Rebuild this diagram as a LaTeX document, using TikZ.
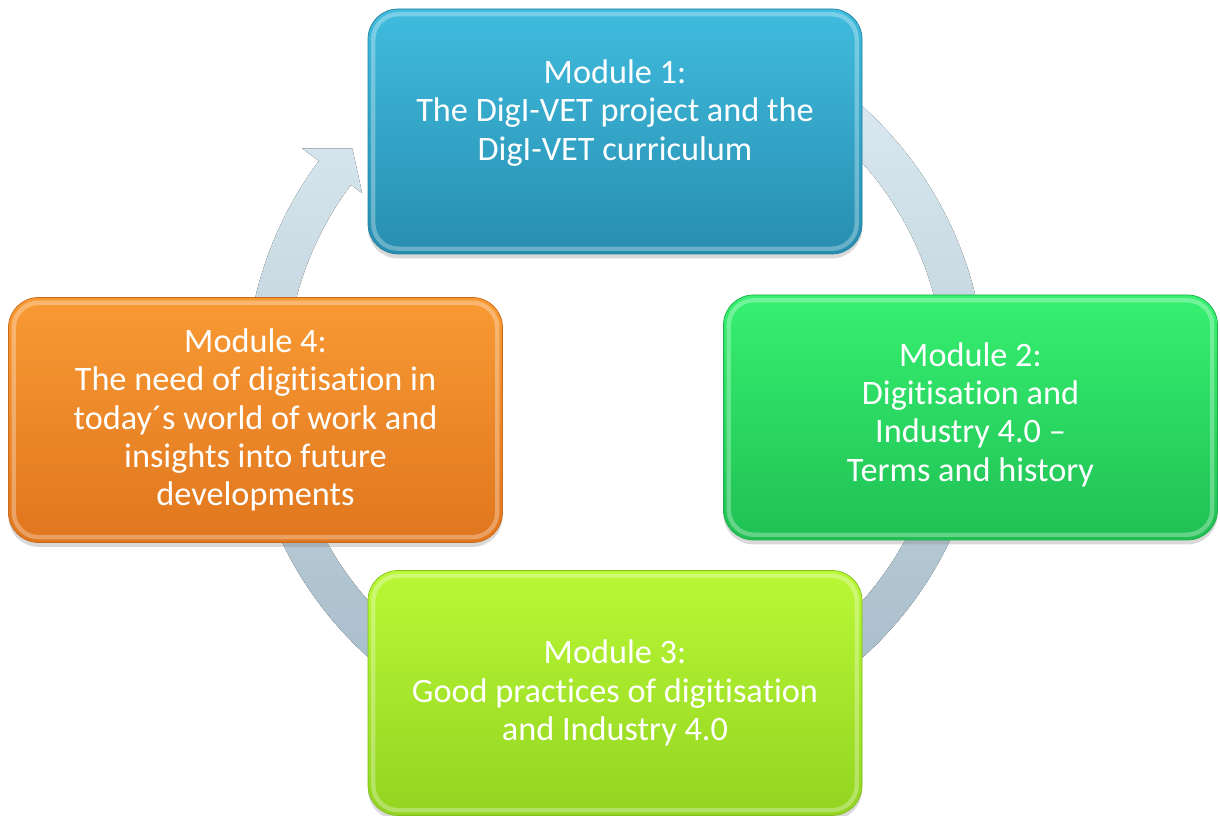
\documentclass[tikz,border=0pt]{standalone}
\usepackage{fontspec}
\setmainfont[Ligatures=NoCommon]{Carlito}
\usepackage{tikz}
\usetikzlibrary{shadows,calc}

\definecolor{ringtop}{RGB}{224,238,245}
\definecolor{ringbot}{RGB}{160,182,196}
\definecolor{blueA}{RGB}{64,188,222}
\definecolor{blueB}{RGB}{40,142,176}
\definecolor{greenA}{RGB}{54,240,112}
\definecolor{greenB}{RGB}{32,192,84}
\definecolor{limeA}{RGB}{186,248,54}
\definecolor{limeB}{RGB}{146,212,32}
\definecolor{orangeA}{RGB}{248,154,52}
\definecolor{orangeB}{RGB}{224,118,30}

\begin{document}
\begin{tikzpicture}[
                    modbox/.style = {rounded corners=0.6cm, minimum width=9.88cm, minimum height=4.9cm,
                                     line width=0.4pt,
                                     drop shadow={shadow xshift=0pt, shadow yshift=-2.5pt, opacity=0.3},
                                     path picture={\draw[white, opacity=0.3, line width=2.5pt, rounded corners=0.5cm]
                                        ([shift={(3pt,3pt)}]path picture bounding box.south west) rectangle
                                        ([shift={(-3pt,-3pt)}]path picture bounding box.north east);}},
                    modtext/.style = {align=center, text=white, font=\fontsize{19.5}{21.8}\selectfont}
                ]

                \useasboundingbox (0,0) rectangle (24.4,16.32);

                % circular arrow behind the boxes
                \begin{scope}[shift={(12.31,8.68)}]
                    \fill[top color=ringtop, bottom color=ringbot]
                        (80:7.4) arc[start angle=80, end angle=-216.7, radius=7.4]
                        -- (143.3:7.82) -- (138.4:7.04) -- (143.3:6.32) -- (143.3:6.6)
                        arc[start angle=143.3, end angle=440, radius=6.6] -- cycle;
                \end{scope}

                \node[modbox, top color=blueA, bottom color=blueB, draw=blueB!90!black] (m1) at (12.3,13.69) {};
                \node[modbox, top color=greenA, bottom color=greenB, draw=greenB!90!black] (m2) at (19.41,7.97) {};
                \node[modbox, top color=limeA, bottom color=limeB, draw=limeB!90!black] (m3) at (12.3,2.46) {};
                \node[modbox, top color=orangeA, bottom color=orangeB, draw=orangeB!90!black] (m4) at (5.11,7.92) {};

                \node[modtext] (m1t) at ([yshift=0.37cm]m1.center) {Module 1:\\The DigI-VET project and the\\DigI-VET curriculum};
                \node[modtext] (m2t) at ([yshift=0.06cm]m2.center) {Module 2:\\Digitisation and\\Industry 4.0 –\\Terms and history};
                \node[modtext] (m3t) at (m3.center) {Module 3:\\Good practices of digitisation\\and Industry 4.0};
                \node[modtext] (m4t) at (m4.center) {Module 4:\\The need of digitisation in\\today´s world of work and\\insights into future\\developments};

            \end{tikzpicture}
\end{document}
